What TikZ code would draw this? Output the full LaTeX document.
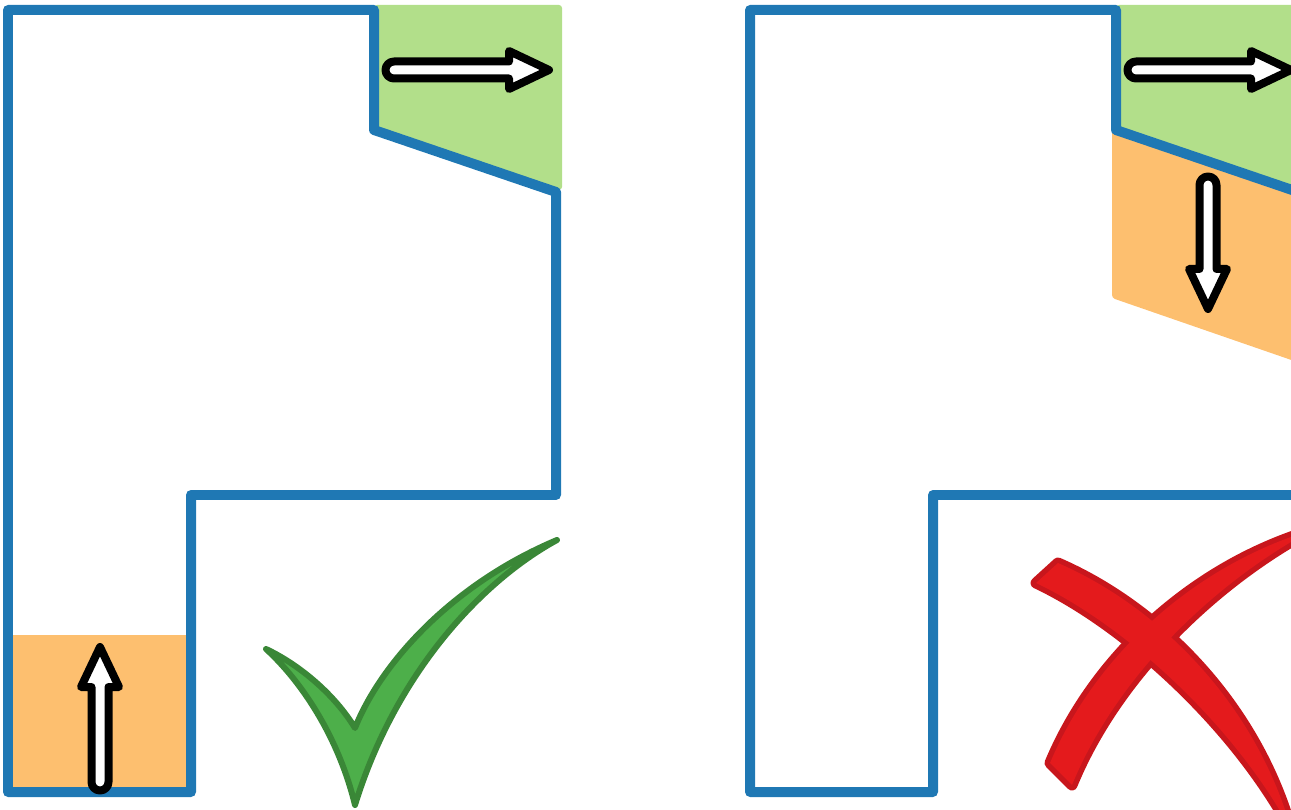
\documentclass[tikz,border=0pt]{standalone}
\usepackage{xcolor}
\usepackage{tikz}

\definecolor{wallblue}{HTML}{1F78B4}
\definecolor{zonegreen}{HTML}{B2DF8A}
\definecolor{zoneorange}{HTML}{FDBF6F}
\definecolor{tickfill}{HTML}{4DAF4A}
\definecolor{tickline}{HTML}{3A8737}
\definecolor{crossfill}{HTML}{E41A1C}
\definecolor{crossline}{HTML}{C8161C}

% fat white arrow: x, y, angle, length
\newcommand{\fatarrow}[4]{%
    \begin{scope}[shift={(#1,#2)}, rotate=#3]
        \filldraw[arrowbody] (0,-8.5) -- (#4-40,-8.5) -- (#4-40,-19) -- (#4,0)
            -- (#4-40,19) -- (#4-40,8.5) -- (0,8.5) arc (90:270:8.5) -- cycle;
    \end{scope}}

% outlines of the two strokes of the cross
\newcommand{\crossone}{(1036,583) -- (1058,563) .. controls (1155,605) and (1255,700) .. (1292,832)
    .. controls (1235,725) and (1125,625) .. (1036,583) -- cycle}
\newcommand{\crosstwo}{(1072,785) -- (1050,763) .. controls (1095,655) and (1195,565) .. (1312,530)
    .. controls (1210,585) and (1115,680) .. (1072,785) -- cycle}

\begin{document}
\begin{tikzpicture}[
    x=0.02cm,
    y=-0.02cm,
    wall/.style={
        draw=wallblue,
        line width=0.2cm,
        line join=round
    },
    zone/.style={
        rounded corners=0.06cm
    },
    arrowbody/.style={
        draw=black,
        fill=white,
        line width=0.16cm,
        line join=round
    },
    tick/.style={
        draw=tickline,
        fill=tickfill,
        line width=0.12cm,
        line join=round
    }
]
\useasboundingbox (0,0) rectangle (1291,810);
\clip (0,0) rectangle (1291,810);

% Left room
\fill[zone, zonegreen] (374,5) -- (562,5) -- (562,190) -- (374,128) -- cycle;
\fill[zone, zoneorange] (8,635) rectangle (192,792);
\draw[wall] (8,10) -- (374,10) -- (374,130) -- (556,192) -- (556,495)
    -- (191,495) -- (191,792) -- (8,792) -- cycle;

\fatarrow{394}{70}{0}{155}
\fatarrow{100}{782}{90}{135}

% Check mark
\draw[tick] (266,649) .. controls (300,665) and (335,695) .. (355,728)
    .. controls (380,665) and (450,585) .. (557,540)
    .. controls (480,582) and (395,675) .. (355,805)
    .. controls (338,735) and (300,680) .. (266,649) -- cycle;

% Right room
\fill[zone, zonegreen] (1116,5) -- (1300,5) -- (1300,193) -- (1116,130) -- cycle;
\fill[zone, zoneorange] (1112,128) -- (1300,192) -- (1300,363) -- (1112,298) -- cycle;
\draw[wall] (750,10) -- (1116,10) -- (1116,130) -- (1298,192) -- (1298,495)
    -- (933,495) -- (933,792) -- (750,792) -- cycle;

\fatarrow{1136}{70}{0}{155}
\fatarrow{1208}{185}{-90}{124}

% Cross
\draw[crossline, line width=0.22cm, line join=round] \crossone;
\draw[crossline, line width=0.22cm, line join=round] \crosstwo;
\fill[crossfill] \crossone;
\fill[crossfill] \crosstwo;

\end{tikzpicture}
\end{document}
